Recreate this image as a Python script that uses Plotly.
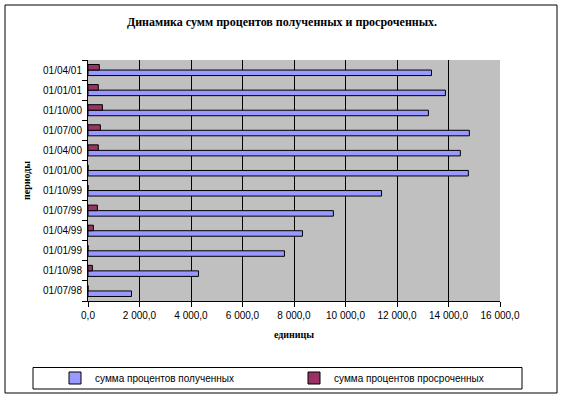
import plotly.graph_objects as go

# ---- data ----
periods = ["01/07/98", "01/10/98", "01/01/99", "01/04/99", "01/07/99", "01/10/99",
           "01/01/00", "01/04/00", "01/07/00", "01/10/00", "01/01/01", "01/04/01"]
received = [1690, 4290, 7630, 8330, 9530, 11400, 14770, 14460, 14810, 13220, 13880, 13340]
overdue = [0, 170, 0, 210, 365, 0, 0, 400, 480, 560, 400, 440]
x_tickvals = [0, 2000, 4000, 6000, 8000, 10000, 12000, 14000, 16000]
x_ticktext = ["0,0", "2 000,0", "4 000,0", "6 000,0", "8 000,0", "10 000,0",
              "12 000,0", "14 000,0", "16 000,0"]
name_received = "сумма процентов полученных"
name_overdue = "сумма процентов просроченных"
title_text = "Динамика сумм процентов полученных и просроченных."
y_title = "периоды"
x_title = "единицы"

W, H = 563, 399
ML, MR, MT, MB = 88, 63, 60, 98
PW, PH = W - ML - MR, H - MT - MB

def px(x):
    return (x - ML) / PW

def py(y):
    return (H - MB - y) / PH

serif = "Liberation Serif, Times New Roman, serif"
sans = "Liberation Sans, Arial, sans-serif"

fig = go.Figure()
fig.add_trace(go.Bar(y=periods, x=received, orientation="h", name=name_received,
                     legend="legend",
                     marker=dict(color="#9999FF", line=dict(color="black", width=1))))
fig.add_trace(go.Bar(y=periods, x=overdue, orientation="h", name=name_overdue,
                     legend="legend2",
                     marker=dict(color="#993366", line=dict(color="black", width=1))))

legend_common = dict(orientation="h", xanchor="left", yanchor="middle",
                     bgcolor="rgba(0,0,0,0)", borderwidth=0,
                     font=dict(family=sans, size=10, color="black"),
                     itemclick=False)

fig.update_layout(
    width=W, height=H,
    margin=dict(l=ML, r=MR, t=MT, b=MB, autoexpand=False),
    paper_bgcolor="white",
    plot_bgcolor="#C0C0C0",
    barmode="group",
    bargap=0.45,
    bargroupgap=0,
    showlegend=True,
    legend=dict(legend_common, x=px(55), y=py(378)),
    legend2=dict(legend_common, x=px(294), y=py(378)),
    xaxis=dict(range=[0, 16000], tickvals=x_tickvals, ticktext=x_ticktext,
               showgrid=True, gridcolor="black", gridwidth=1,
               showline=True, linecolor="black", linewidth=1,
               ticks="outside", ticklen=5, tickcolor="black",
               zeroline=False,
               tickfont=dict(family=sans, size=10, color="black"),
               title=dict(text="<b>" + x_title + "</b>",
                          font=dict(family=serif, size=10, color="black"),
                          standoff=10)),
    yaxis=dict(type="category", categoryorder="array", categoryarray=periods,
               showgrid=False, showline=True, linecolor="black", linewidth=1,
               ticks="outside", ticklen=5, tickcolor="black", tickson="boundaries",
               ticklabelstandoff=3,
               tickfont=dict(family=sans, size=10, color="black"),
               title=dict(text="<b>" + y_title + "</b>",
                          font=dict(family=serif, size=10, color="black"),
                          standoff=10)),
    title=dict(text="<b>" + title_text + "</b>", x=px(282), xref="paper", xanchor="center",
               y=1 - 22 / H, yanchor="middle",
               font=dict(family=serif, size=12, color="black")),
    shapes=[
        dict(type="rect", xref="paper", yref="paper",
             x0=px(5), x1=px(557), y0=py(5), y1=py(393),
             line=dict(color="black", width=1), fillcolor="rgba(0,0,0,0)", layer="below"),
        dict(type="rect", xref="paper", yref="paper",
             x0=px(33), x1=px(522), y0=py(367.5), y1=py(389),
             line=dict(color="black", width=1), fillcolor="rgba(0,0,0,0)", layer="below"),
    ],
)
fig.write_html("out.html")
